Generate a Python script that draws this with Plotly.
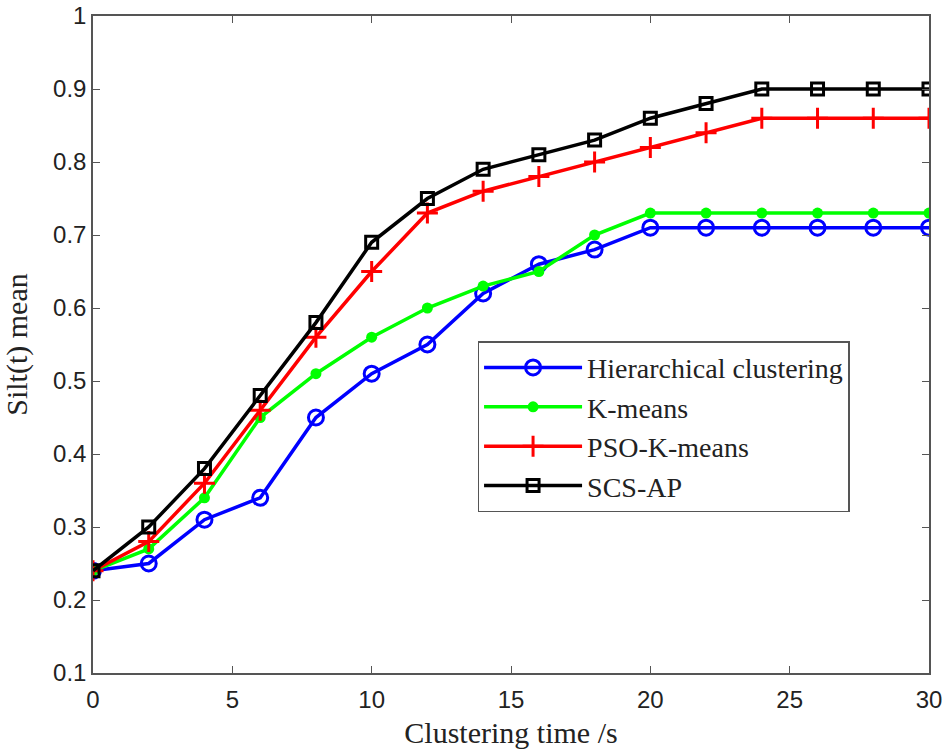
import plotly.graph_objects as go

x = [0, 2, 4, 6, 8, 10, 12, 14, 16, 18, 20, 22, 24, 26, 28, 30]
hier = [0.24, 0.25, 0.31, 0.34, 0.45, 0.51, 0.55, 0.62, 0.66, 0.68, 0.71, 0.71, 0.71, 0.71, 0.71, 0.71]
kmeans = [0.24, 0.27, 0.34, 0.45, 0.51, 0.56, 0.60, 0.63, 0.65, 0.70, 0.73, 0.73, 0.73, 0.73, 0.73, 0.73]
pso = [0.24, 0.28, 0.36, 0.46, 0.56, 0.65, 0.73, 0.76, 0.78, 0.80, 0.82, 0.84, 0.86, 0.86, 0.86, 0.86]
scs = [0.24, 0.30, 0.38, 0.48, 0.58, 0.69, 0.75, 0.79, 0.81, 0.83, 0.86, 0.88, 0.90, 0.90, 0.90, 0.90]

names = ["Hierarchical clustering", "K-means", "PSO-K-means", "SCS-AP"]
colors = ["#0000ff", "#00ff00", "#ff0000", "#000000"]

fig = go.Figure()
fig.add_trace(go.Scatter(x=x, y=hier, name=names[0], mode="lines+markers",
                         line=dict(color=colors[0], width=3.5),
                         marker=dict(symbol="circle-open", size=15, color=colors[0], line=dict(width=3))))
fig.add_trace(go.Scatter(x=x, y=kmeans, name=names[1], mode="lines+markers",
                         line=dict(color=colors[1], width=3.5),
                         marker=dict(symbol="circle", size=11, color=colors[1])))
fig.add_trace(go.Scatter(x=x, y=pso, name=names[2], mode="lines+markers",
                         line=dict(color=colors[2], width=3.5),
                         marker=dict(symbol="cross-thin-open", size=15, color=colors[2], line=dict(width=3, color=colors[2]))))
fig.add_trace(go.Scatter(x=x, y=scs, name=names[3], mode="lines+markers",
                         line=dict(color=colors[3], width=3.5),
                         marker=dict(symbol="square-open", size=12, color=colors[3], line=dict(width=3))))

axis_common = dict(showgrid=False, zeroline=False, showline=True, linecolor="#555555", linewidth=1.5,
                   mirror="ticks", ticks="inside", ticklen=7, tickcolor="#555555",
                   ticklabeloverflow="allow", automargin=False,
                   tickfont=dict(family="Liberation Sans, Arial", size=24, color="#222"))

serif = "Liberation Serif, Times New Roman"
fig.update_xaxes(range=[0, 30], tickvals=[0, 5, 10, 15, 20, 25, 30],
                 ticklabelstandoff=4,
                 title=dict(text="Clustering time /s", font=dict(family=serif, size=30, color="#222"), standoff=22),
                 **axis_common)
fig.update_yaxes(range=[0.1, 1], tickvals=[0.1, 0.2, 0.3, 0.4, 0.5, 0.6, 0.7, 0.8, 0.9, 1],
                 ticktext=["0.1", "0.2", "0.3", "0.4", "0.5", "0.6", "0.7", "0.8", "0.9", "1"],
                 title=dict(text="Silt(t) mean", font=dict(family=serif, size=30, color="#222"), standoff=18),
                 **axis_common)

fig.update_layout(
    width=944, height=749,
    margin=dict(l=93, r=15, t=16, b=76),
    plot_bgcolor="white", paper_bgcolor="white",
    legend=dict(x=0.46, y=0.505, xanchor="left", yanchor="top",
                bordercolor="#555555", borderwidth=1.5, bgcolor="white",
                itemwidth=98,
                font=dict(family=serif, size=28, color="#222"),
                tracegroupgap=0),
)

fig.write_html("out.html", config={"displayModeBar": False},
               post_script="document.body.style.margin='0';document.body.style.overflow='hidden';")
